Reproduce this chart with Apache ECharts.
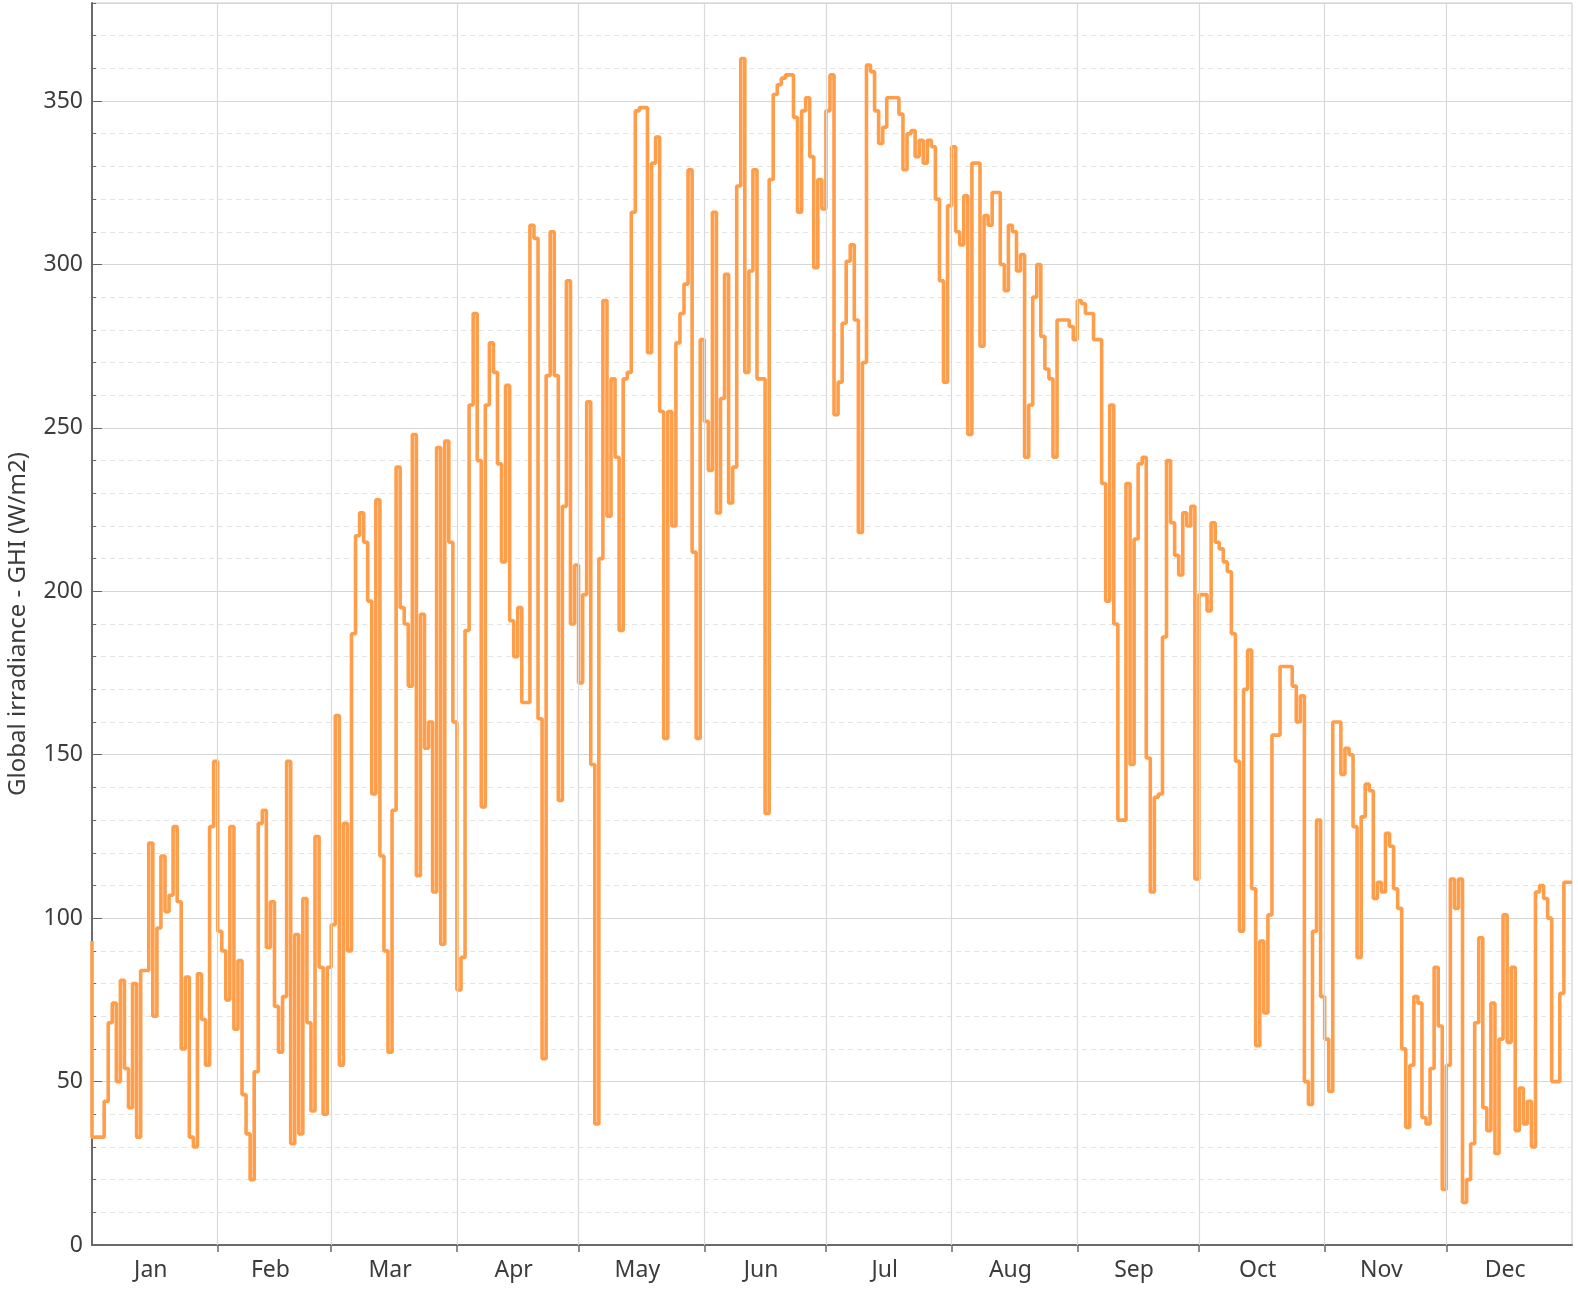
<!DOCTYPE html>
<html>
<head>
<meta charset="utf-8">
<script src="https://cdn.jsdelivr.net/npm/echarts@6/dist/echarts.min.js"></script>
<style>
html,body{margin:0;padding:0;background:#fff;}
#chart{width:1578px;height:1289px;}
</style>
</head>
<body>
<div id="chart"></div>
<script>
// ---- Data (daily mean global horizontal irradiance, W/m2) ----
const months = ['Jan','Feb','Mar','Apr','May','Jun','Jul','Aug','Sep','Oct','Nov','Dec'];
const monthDays = [31,28,31,30,31,30,31,31,30,31,30,31];
const startValue = 93;
const jan = [33,33,33,44,68,74,50,81,54,42,80,33,84,84,123,70,97,119,102,107,128,105,60,82,33,30,83,69,55,128,148];
const feb = [96,90,75,128,66,87,46,34,20,53,129,133,91,105,73,59,76,148,31,95,34,106,68,41,125,85,40,85];
const mar = [98,162,55,129,90,187,217,224,215,197,138,228,119,90,59,133,238,195,190,171,248,113,193,152,160,108,244,92,246,215,160];
const apr = [78,88,188,257,285,240,134,257,276,267,239,209,263,191,180,195,166,166,312,308,161,57,266,310,266,136,226,295,190,208];
const may = [172,199,258,147,37,210,289,223,265,241,188,265,267,316,347,348,348,273,331,339,255,155,255,220,276,285,294,329,212,155,277];
const jun = [252,237,316,224,259,297,227,238,324,363,267,298,329,265,265,132,326,352,355,357,358,358,345,316,347,351,333,299,326,317];
const jul = [347,358,254,264,282,301,306,283,218,270,361,359,347,337,342,351,351,351,346,329,340,341,333,338,331,338,336,320,295,264,318];
const aug = [336,310,306,321,248,331,331,275,315,312,322,322,300,292,312,310,298,303,241,257,290,300,278,268,265,241,283,283,283,281,277];
const sep = [289,288,285,285,277,277,233,197,257,190,130,130,233,147,216,239,241,149,108,137,138,186,240,221,211,205,224,220,226,112];
const oct = [199,199,194,221,215,213,209,206,187,148,96,170,182,109,61,93,71,101,156,156,177,177,177,171,160,168,50,43,96,130,76];
const nov = [63,47,160,160,144,152,150,128,88,131,141,139,106,111,108,126,122,109,103,60,36,55,76,74,39,37,54,85,67,17];
const dec = [55,112,103,112,13,20,31,68,94,42,35,74,28,63,101,62,85,35,48,37,44,30,108,110,106,100,50,50,77,111,111];
const yTitle = 'Global irradiance - GHI (W/m2)';

// ---- Build ----
const daily = [].concat(jan,feb,mar,apr,may,jun,jul,aug,sep,oct,nov,dec);
const points = [[0, startValue]];
daily.forEach((v,i) => points.push([i+1, v]));

const monthStarts = [];
let acc = 0;
monthDays.forEach(d => { monthStarts.push(acc); acc += d; });
const totalDays = acc;
const boundaries = monthStarts.slice(1);
const labelPos = monthStarts.map((s,i) => s + monthDays[i]/2 - 1);

const font = 'Noto Sans';
const chart = echarts.init(document.getElementById('chart'), null, {renderer:'canvas'});
chart.setOption({
  animation: false,
  backgroundColor: '#ffffff',
  textStyle: {fontFamily: font},
  grid: {left: 92, right: 6, top: 3, bottom: 44, show: true, borderColor: '#c8c8c8', borderWidth: 1,
         backgroundColor: 'transparent', containLabel: false, outerBoundsMode: 'none'},
  xAxis: {
    type: 'value', min: 0, max: totalDays,
    axisLine: {show: true, onZero: false, lineStyle: {color: '#6a6a6a', width: 2}},
    axisTick: {show: true, customValues: boundaries, length: 7, lineStyle: {color: '#6a6a6a', width: 1.5}},
    axisLabel: {
      customValues: labelPos, fontSize: 23, color: '#3c3c3c', margin: 14, fontFamily: font,
      formatter: function (v) {
        let best = 0, bd = 1e9;
        labelPos.forEach((p,i) => { const d = Math.abs(p - v); if (d < bd) { bd = d; best = i; } });
        return months[best];
      }
    },
    splitLine: {show: false}
  },
  yAxis: [
    {
      type: 'value', min: 0, max: 380, interval: 10, position: 'left',
      axisLine: {show: false},
      axisLabel: {show: false},
      axisTick: {show: true, inside: true, length: 4, lineStyle: {color: '#666'}},
      splitLine: {show: true, lineStyle: {color: '#e4e4e4', type: [5, 4], width: 1}}
    },
    {
      type: 'value', min: 0, max: 380, interval: 50, position: 'left', offset: 0,
      name: yTitle, nameLocation: 'middle', nameGap: 62,
      nameTextStyle: {fontSize: 24, color: '#3c3c3c', fontFamily: font},
      axisLine: {show: true, onZero: false, lineStyle: {color: '#6a6a6a', width: 2}},
      axisTick: {show: true, inside: true, length: 10, lineStyle: {color: '#666'}},
      axisLabel: {fontSize: 23, color: '#3c3c3c', margin: 9, showMaxLabel: false, fontFamily: font},
      splitLine: {show: true, lineStyle: {color: '#d6d6d6', width: 1.2}}
    }
  ],
  series: [
    {
      name: 'months', type: 'line', data: [], z: 1, silent: true,
      markLine: {
        silent: true, symbol: 'none', animation: false,
        label: {show: false},
        lineStyle: {color: '#d9d9d9', type: 'solid', width: 1.2},
        data: boundaries.map(b => ({xAxis: b}))
      }
    },
    {
      name: 'GHI', type: 'line', yAxisIndex: 1, step: 'start',
      data: points, showSymbol: false, z: 3,
      lineStyle: {color: '#ff9e4a', width: 3.6},
      itemStyle: {color: '#ff9e4a'}
    }
  ]
});
</script>
</body>
</html>
